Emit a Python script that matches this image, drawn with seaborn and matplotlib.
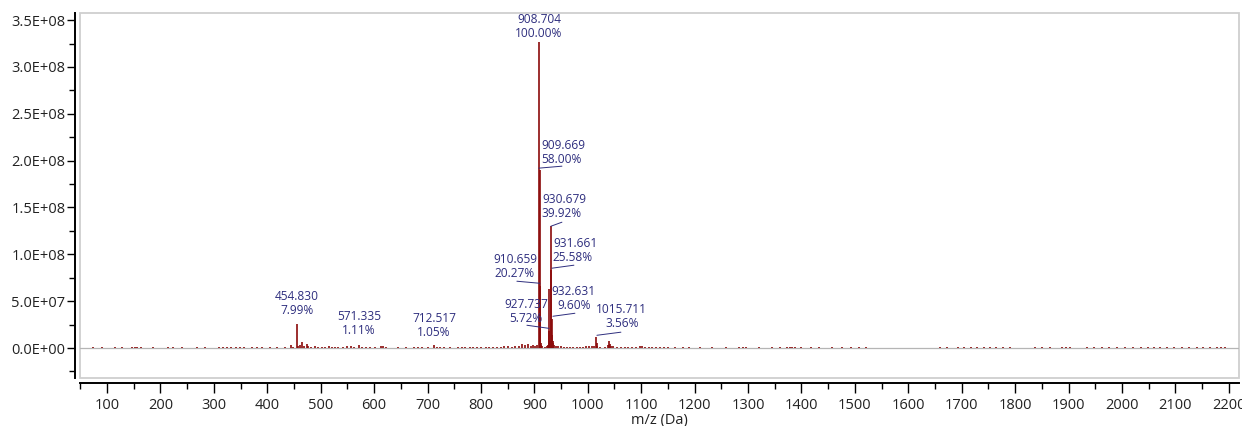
import numpy as np
import pandas as pd
import seaborn as sns
import matplotlib
matplotlib.use("Agg")
import matplotlib.pyplot as plt
from matplotlib.ticker import MultipleLocator, FuncFormatter
from matplotlib.patches import Rectangle

# ---------------- data ----------------
# labelled peaks: m/z, intensity (counts), relative %
label_mz = [908.704, 909.669, 930.679, 931.661, 910.659, 927.737, 932.631, 1015.711, 712.517, 571.335, 454.830]
label_int = [3.27e8, 1.897e8, 1.305e8, 8.36e7, 6.63e7, 1.87e7, 3.14e7, 1.16e7, 3.43e6, 3.63e6, 2.61e7]
label_pct = ["100.00%", "58.00%", "39.92%", "25.58%", "20.27%", "5.72%", "9.60%", "3.56%", "1.05%", "1.11%", "7.99%"]

# unlabelled peaks (m/z, intensity in 1e6 counts)
minor_mz = [73, 91, 115, 129, 147, 152, 157, 163, 186, 215, 223, 241, 268, 283, 309, 317, 325, 333,
            341, 349, 357, 371, 381, 391, 405, 419, 433, 445, 449, 458, 462, 465.5, 468, 473.7, 477,
            482, 489, 495, 503, 509, 516, 521, 527, 533, 541, 549, 556, 563, 577, 585, 593, 601, 612,
            617, 623, 645, 660, 675, 683, 690, 700, 718, 724, 731, 742, 758, 765, 771, 779, 786, 793,
            801, 809, 816, 823, 830, 837, 844, 851, 858, 864, 871, 876, 882, 888, 893, 897, 902, 905,
            911.6, 912.7, 914, 919, 923, 925, 927.0, 929.6, 933.6, 934.6, 935.6, 937, 940, 944, 949,
            955, 961, 967, 973, 979, 985, 991, 997, 1003, 1008, 1012, 1016.7, 1018, 1022, 1033, 1037,
            1039.5, 1041, 1044, 1048, 1055, 1062, 1069, 1076, 1083, 1090, 1098, 1101, 1108, 1115, 1121,
            1128, 1136, 1143, 1150, 1163, 1178, 1190, 1210, 1232, 1258, 1283, 1290, 1297, 1320, 1345,
            1360, 1372, 1378, 1383, 1388, 1400, 1418, 1433, 1458, 1475, 1492, 1508, 1520, 1660, 1672,
            1693, 1705, 1717, 1729, 1741, 1753, 1765, 1777, 1790, 1837, 1850, 1866, 1887, 1895, 1903,
            1934, 1948, 1962, 1975, 1990, 2005, 2020, 2035, 2048, 2060, 2072, 2085, 2098, 2112, 2125,
            2140, 2152, 2165, 2178, 2185, 2192]
minor_int = [0.8, 0.6, 1.5, 0.8, 1.2, 1.0, 1.4, 1.0, 1.2, 0.9, 0.8, 1.1, 0.7, 1.3, 0.9, 1.2, 1.0, 0.8,
             1.5, 1.1, 1.0, 1.3, 0.9, 1.2, 0.8, 1.1, 1.4, 3.5, 1.5, 2.0, 3.0, 6.4, 2.5, 4.0, 2.2,
             1.5, 1.8, 1.2, 1.6, 1.4, 1.8, 1.2, 1.5, 1.3, 1.2, 1.7, 2.0, 1.5, 1.4, 1.2, 1.1, 1.3, 1.8,
             2.0, 1.2, 0.9, 1.0, 0.9, 1.1, 0.8, 1.2, 1.5, 1.3, 1.0, 0.8, 0.9, 1.1, 0.9, 1.2, 1.0, 1.3,
             1.1, 1.2, 1.4, 1.0, 1.5, 1.2, 1.8, 2.2, 1.5, 1.8, 2.5, 4.0, 3.0, 4.5, 2.5, 3.0, 2.5, 3.5,
             5.0, 3.0, 2.0, 1.5, 2.0, 3.0, 62.5, 8.0, 14.0, 8.0, 5.0, 3.5, 2.5, 2.0, 1.8,
             1.5, 1.6, 1.4, 1.5, 1.3, 1.6, 1.4, 1.8, 2.0, 2.2, 2.5, 5.0, 2.0, 1.2, 1.5, 3.0,
             7.0, 4.0, 2.5, 1.8, 1.4, 1.2, 1.5, 1.1, 1.3, 1.2, 2.0, 1.8, 1.1, 1.2, 1.0,
             1.3, 1.0, 1.1, 0.9, 0.8, 0.9, 0.7, 0.8, 0.6, 0.7, 1.0, 1.2, 0.8, 0.9, 1.0,
             1.1, 1.2, 1.5, 1.6, 1.3, 0.8, 0.7, 0.8, 0.6, 0.8, 0.7, 0.7, 0.6, 0.7, 0.6,
             0.8, 0.7, 0.8, 0.7, 0.6, 0.8, 0.7, 0.6, 0.7, 1.5, 0.8, 0.6, 0.9, 0.7, 0.8,
             0.6, 0.7, 0.8, 0.7, 0.8, 0.9, 0.7, 0.8, 0.9, 1.0, 0.8, 0.9, 0.8, 0.7, 0.8,
             0.9, 0.8, 0.9, 1.1, 1.3, 1.0]

y_ticks = [0, 5e7, 1e8, 1.5e8, 2e8, 2.5e8, 3e8, 3.5e8]
x_ticks = list(range(100, 2201, 100))

# ---------------- label layout (data coords) ----------------
# text x, text y (bottom), ha, leader line (x0, y0, x1, y1) or None
label_layout = [
    (908.5, 3.29e8, "center", None),
    (913.6, 1.945e8, "left", (908.5, 1.920e8, 951.6, 1.941e8)),
    (914.1, 1.368e8, "left", (930.98, 1.30e8, 951.6, 1.343e8)),
    (934.7, 8.98e7, "left", (932.8, 8.52e7, 974.0, 8.84e7)),
    (904.8, 7.27e7, "right", (867.3, 7.13e7, 910.4, 6.91e7)),
    (884.2, 2.47e7, "center", (886.1, 2.43e7, 927.3, 2.10e7)),
    (974.0, 3.85e7, "center", (934.7, 3.39e7, 975.9, 3.71e7)),
    (1063.9, 1.93e7, "center", (1017.1, 1.36e7, 1062.0, 1.69e7)),
    (712.0, 9.7e6, "center", None),
    (571.6, 1.18e7, "center", None),
    (455.6, 3.32e7, "center", None),
]

peaks = pd.DataFrame({
    "mz": list(minor_mz) + list(label_mz),
    "intensity": [v * 1e6 for v in minor_int] + list(label_int),
})

# ---------------- plotting ----------------
sns.set_theme(style="white")
plt.rcParams["font.family"] = ["Open Sans", "DejaVu Sans"]

W, H = 1242, 426
fig = plt.figure(figsize=(W / 100, H / 100), dpi=100)
ax = fig.add_axes([80 / W, 1 - 378 / H, (1239 - 80) / W, (378 - 13) / H])

stem_color = "#8B0A0A"
label_color = "#2E2E7E"

ax.axhline(0, color="#b5b5b5", lw=0.9, zorder=1)
ax.vlines(peaks["mz"], 0, peaks["intensity"], color=stem_color, lw=1.2, zorder=2)

for mz, pct, (tx, ty, ha, leader) in zip(label_mz, label_pct, label_layout):
    ax.text(tx, ty, f"{mz:.3f}\n{pct}", ha=ha, va="bottom", multialignment=ha if ha != "right" else "center",
            fontsize=8.6, color=label_color, linespacing=1.05, zorder=3)
    if leader is not None:
        x0, y0, x1, y1 = leader
        ax.plot([x0, x1], [y0, y1], color=label_color, lw=0.7, zorder=3)

ax.set_xlim(49.5, 2219)
ax.set_ylim(-3.2e7, 3.576e8)

ax.set_yticks(y_ticks)
ax.yaxis.set_minor_locator(MultipleLocator(2.5e7))
ax.yaxis.set_major_formatter(FuncFormatter(lambda v, p: f"{v:.1E}"))
ax.set_xticks(x_ticks)
ax.xaxis.set_minor_locator(MultipleLocator(50))

for s in ax.spines.values():
    s.set_visible(False)
for side in ("left", "bottom"):
    ax.spines[side].set_visible(True)
    ax.spines[side].set_color("black")
    ax.spines[side].set_linewidth(1.4)
    ax.spines[side].set_position(("outward", 3.5))

ax.add_patch(Rectangle((0, 0), 1, 1, transform=ax.transAxes, fill=False,
                       edgecolor="#cfcfcf", lw=1.3, clip_on=False, zorder=0))

ax.tick_params(axis="both", which="major", direction="out", length=6, width=1.0,
               color="black", labelsize=10.5, labelcolor="#222222", bottom=True, left=True, pad=1)
ax.tick_params(axis="both", which="minor", direction="out", length=4, width=1.0,
               color="black", bottom=True, left=True)
ax.tick_params(axis="x", which="major", length=7, pad=4)

ax.set_xlabel("m/z (Da)", fontsize=10.5, color="#222222", labelpad=0)
ax.set_ylabel("")

fig.savefig("out.png", dpi=100)
